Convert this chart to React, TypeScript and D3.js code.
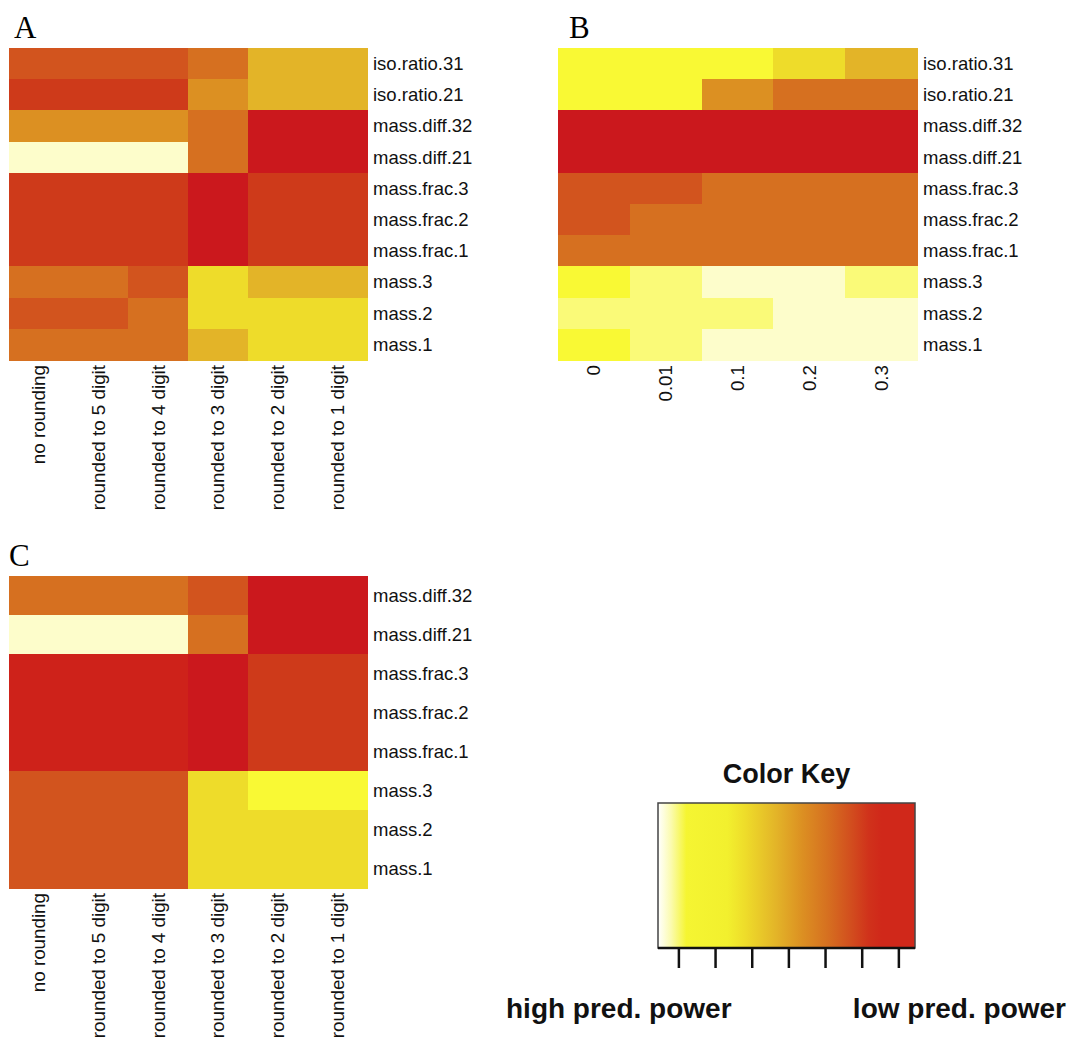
import React from "react";
import * as d3 from "d3";

// colour levels, light (high predictive power) -> dark red (low)
const palette = [
  "#FDFDCB", "#FAFA78", "#F9F934", "#EEDC2A", "#E3B428", "#DC9022",
  "#D67020", "#D2541E", "#CE3A1A", "#CE221A", "#CB181D",
];

const roundingCols = [
  "no rounding", "rounded to 5 digit", "rounded to 4 digit",
  "rounded to 3 digit", "rounded to 2 digit", "rounded to 1 digit",
];
const noiseCols = ["0", "0.01", "0.1", "0.2", "0.3"];

const rowsAB = [
  "iso.ratio.31", "iso.ratio.21", "mass.diff.32", "mass.diff.21",
  "mass.frac.3", "mass.frac.2", "mass.frac.1", "mass.3", "mass.2", "mass.1",
];
const rowsC = [
  "mass.diff.32", "mass.diff.21", "mass.frac.3", "mass.frac.2",
  "mass.frac.1", "mass.3", "mass.2", "mass.1",
];

const levelsA = [
  [7, 7, 7, 6, 4, 4],
  [8, 8, 8, 5, 4, 4],
  [5, 5, 5, 6, 10, 10],
  [0, 0, 0, 6, 10, 10],
  [8, 8, 8, 10, 8, 8],
  [8, 8, 8, 10, 8, 8],
  [8, 8, 8, 10, 8, 8],
  [6, 6, 7, 3, 4, 4],
  [7, 7, 6, 3, 3, 3],
  [6, 6, 6, 4, 3, 3],
];
const levelsB = [
  [2, 2, 2, 3, 4],
  [2, 2, 5, 6, 6],
  [10, 10, 10, 10, 10],
  [10, 10, 10, 10, 10],
  [7, 7, 6, 6, 6],
  [7, 6, 6, 6, 6],
  [6, 6, 6, 6, 6],
  [2, 1, 0, 0, 1],
  [1, 1, 1, 0, 0],
  [2, 1, 0, 0, 0],
];
const levelsC = [
  [6, 6, 6, 7, 10, 10],
  [0, 0, 0, 6, 10, 10],
  [9, 9, 9, 10, 8, 8],
  [9, 9, 9, 10, 8, 8],
  [9, 9, 9, 10, 8, 8],
  [7, 7, 7, 3, 2, 2],
  [7, 7, 7, 3, 3, 3],
  [7, 7, 7, 3, 3, 3],
];

// colour key gradient
const keyStops = [
  { offset: 0, color: "#FFFFFF" },
  { offset: 0.05, color: "#FBFBB0" },
  { offset: 0.11, color: "#F5F532" },
  { offset: 0.27, color: "#F2F02E" },
  { offset: 0.34, color: "#EEDC2A" },
  { offset: 0.46, color: "#E3B428" },
  { offset: 0.56, color: "#DC9022" },
  { offset: 0.66, color: "#D67020" },
  { offset: 0.75, color: "#D24E1E" },
  { offset: 0.82, color: "#D0321B" },
  { offset: 0.87, color: "#D0281A" },
  { offset: 1, color: "#D0281A" },
];
const keyTicks = [1, 2, 3, 4, 5, 6, 7];
const keyDomain = [0.43, 7.44];

const colorOf = d3
  .scaleOrdinal<number, string>()
  .domain(d3.range(palette.length))
  .range(palette);

const sans = "'Liberation Sans', Arial, Helvetica, sans-serif";
const serif = "'Liberation Serif', 'Times New Roman', serif";

type HeatProps = {
  box: [number, number, number, number];
  rows: string[];
  cols: string[];
  levels: number[][];
  letter: string;
  letterPos: [number, number];
};

const Heatmap = ({ box, rows, cols, levels, letter, letterPos }: HeatProps) => {
  const [x0, x1, y0, y1] = box;
  const x = d3.scaleBand<string>().domain(cols).range([x0, x1]);
  const y = d3.scaleBand<string>().domain(rows).range([y0, y1]);

  return (
    <g>
      <text x={letterPos[0]} y={letterPos[1]} fontFamily={serif} fontSize={31}>
        {letter}
      </text>
      <g shapeRendering="crispEdges">
        {rows.map((r, i) =>
          cols.map((c, j) => (
            <rect
              key={r + c}
              x={x(c)}
              y={y(r)}
              width={x.bandwidth() + 0.5}
              height={y.bandwidth() + 0.5}
              fill={colorOf(levels[i][j])}
            />
          ))
        )}
      </g>
      {rows.map((r) => (
        <text
          key={r}
          x={x1 + 6}
          y={(y(r) as number) + y.bandwidth() / 2}
          dy="0.35em"
          fontFamily={sans}
          fontSize={18.5}
          fill="#111"
        >
          {r}
        </text>
      ))}
      {cols.map((c) => (
        <text
          key={c}
          transform={`translate(${(x(c) as number) + x.bandwidth() / 2},${y1 + 5}) rotate(-90)`}
          dy="0.35em"
          textAnchor="end"
          fontFamily={sans}
          fontSize={18.8}
          fill="#111"
        >
          {c}
        </text>
      ))}
    </g>
  );
};

const ColorKey = () => {
  const left = 658;
  const right = 915;
  const top = 803;
  const bottom = 948;
  const kx = d3.scaleLinear().domain(keyDomain).range([left, right]);

  return (
    <g>
      <defs>
        <linearGradient id="keyGrad" x1="0" x2="1" y1="0" y2="0">
          {keyStops.map((s) => (
            <stop key={s.offset} offset={s.offset} stopColor={s.color} />
          ))}
        </linearGradient>
      </defs>
      <text
        x={(left + right) / 2}
        y={783}
        textAnchor="middle"
        fontFamily={sans}
        fontWeight="bold"
        fontSize={27}
        fill="#111"
      >
        Color Key
      </text>
      <rect
        x={left}
        y={top}
        width={right - left}
        height={bottom - top}
        fill="url(#keyGrad)"
        stroke="#444"
        strokeWidth={1.5}
      />
      <line x1={left} x2={right} y1={bottom} y2={bottom} stroke="#111" strokeWidth={2.5} />
      {keyTicks.map((t) => (
        <line
          key={t}
          x1={kx(t)}
          x2={kx(t)}
          y1={bottom}
          y2={bottom + 20}
          stroke="#111"
          strokeWidth={2.5}
        />
      ))}
      <text x={506} y={1018} fontFamily={sans} fontWeight="bold" fontSize={28} fill="#111">
        high pred. power
      </text>
      <text
        x={1066}
        y={1018}
        textAnchor="end"
        fontFamily={sans}
        fontWeight="bold"
        fontSize={28}
        fill="#111"
      >
        low pred. power
      </text>
    </g>
  );
};

export default function App() {
  return (
    <svg
      width={1068}
      height={1038}
      style={{ position: "absolute", left: 0, top: 0, background: "#fff" }}
    >
      <Heatmap
        box={[9, 367, 48, 360]}
        rows={rowsAB}
        cols={roundingCols}
        levels={levelsA}
        letter="A"
        letterPos={[14, 38]}
      />
      <Heatmap
        box={[558, 917, 48, 360]}
        rows={rowsAB}
        cols={noiseCols}
        levels={levelsB}
        letter="B"
        letterPos={[569, 38]}
      />
      <Heatmap
        box={[9, 367, 576, 888]}
        rows={rowsC}
        cols={roundingCols}
        levels={levelsC}
        letter="C"
        letterPos={[9, 566]}
      />
      <ColorKey />
    </svg>
  );
}
